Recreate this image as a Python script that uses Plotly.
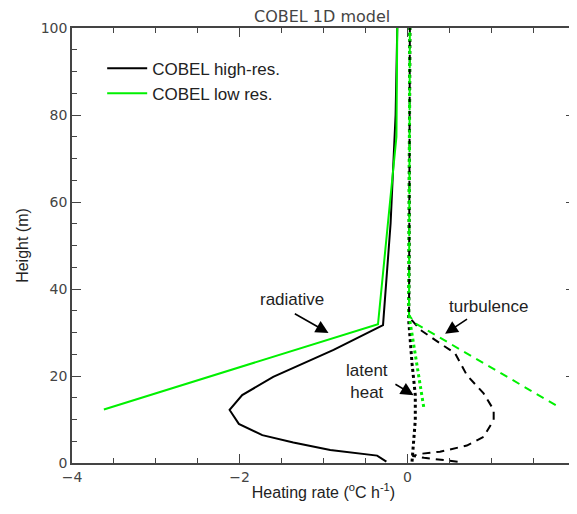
import plotly.graph_objects as go

# ---- data (heating rate in degC/h, height in m) ----
rad_hr_height = [0.3, 1.7, 3.0, 4.7, 6.4, 9.0, 12.2, 15.6, 19.8, 26.0, 31.7, 55, 80, 100]
rad_hr_rate = [-0.25, -0.36, -0.92, -1.36, -1.73, -2.01, -2.12, -1.97, -1.60, -0.88, -0.29, -0.20, -0.14, -0.12]

rad_lr_height = [12.3, 31.9, 75, 100]
rad_lr_rate = [-3.62, -0.35, -0.13, -0.12]

lat_hr_height = [0.3, 4.5, 9.9, 15.6, 22.9, 32.9, 42, 100]
lat_hr_rate = [0.056, 0.075, 0.095, 0.095, 0.056, 0.016, 0.02, 0.03]

lat_lr_height = [12.9, 34.4, 100]
lat_lr_rate = [0.195, 0.016, 0.03]

turb_hr_height = [0.3, 0.7, 1.2, 1.6, 2.1, 2.6, 4.0, 6.0, 9.9, 12.2, 16.0, 20.2, 25.2, 27.5, 30.6, 33.6, 100]
turb_hr_rate = [0.6, 0.4, 0.2, 0.06, 0.155, 0.39, 0.71, 0.91, 1.03, 1.03, 0.91, 0.71, 0.57, 0.39, 0.155, 0.02, 0.03]

turb_lr_height = [13.3, 32.1, 34, 100]
turb_lr_rate = [1.77, 0.095, 0.02, 0.03]

series_names = ["COBEL high-res.", "COBEL low res."]
x_ticks = [-4, -2, 0, 2]
y_ticks = [0, 20, 40, 60, 80, 100]

BLACK = "#000000"
GREEN = "#00f000"
ARIAL = "Liberation Sans, Arial, sans-serif"
HERSHEY = "DejaVu Sans, sans-serif"

fig = go.Figure()

def add(x, y, color, dash, width, name=None, legend=False):
    fig.add_trace(go.Scatter(
        x=x, y=y, mode="lines", name=name, showlegend=legend,
        line=dict(color=color, dash=dash, width=width),
        hoverinfo="skip"))

# latent heat / turbulence first so radiative solid lines sit on top
add(lat_hr_rate, lat_hr_height, BLACK, "3px,3px", 3)
add(lat_lr_rate, lat_lr_height, GREEN, "3px,3px", 3)
add(turb_hr_rate, turb_hr_height, BLACK, "8px,6px", 2)
add(turb_lr_rate, turb_lr_height, GREEN, "8px,6px", 2)
add(rad_hr_rate, rad_hr_height, BLACK, "solid", 2, series_names[0], True)
add(rad_lr_rate, rad_lr_height, GREEN, "solid", 2, series_names[1], True)

# annotations: text labels
labels = [
    ("radiative", -1.38, 37.6),
    ("turbulence", 0.97, 35.9),
    ("latent<br>heat", -0.48, 18.7),
]
for txt, lx, ly in labels:
    fig.add_annotation(x=lx, y=ly, text=txt, showarrow=False,
                       font=dict(family=ARIAL, size=17, color="#222"),
                       xref="x", yref="y")

# arrows: (tail x, tail y, head x, head y)
arrows = [
    (-1.36, 34.5, -0.94, 29.9),
    (0.73, 33.3, 0.45, 29.7),
    (-0.16, 18.3, 0.075, 15.6),
]
for tx, ty, hx, hy in arrows:
    fig.add_annotation(x=hx, y=hy, ax=tx, ay=ty, xref="x", yref="y",
                       axref="x", ayref="y", text="", showarrow=True,
                       arrowhead=2, arrowsize=1.6, arrowwidth=1.6,
                       arrowcolor="#000")

axis_common = dict(
    showgrid=False, zeroline=False, showline=True, linecolor="#444",
    linewidth=1.5, mirror="ticks", ticks="inside", ticklen=9,
    tickwidth=1, tickcolor="#444", automargin=False,
    tickfont=dict(family=HERSHEY, size=14, color="#444"),
)

fig.update_xaxes(range=[-4, 2], tickvals=x_ticks, ticklabeloverflow="allow",
                 minor=dict(ticks="inside", ticklen=5, dtick=0.5, tickcolor="#444", showgrid=False),
                 title=dict(text="Heating rate (<sup>o</sup>C h<sup>-1</sup>)",
                            font=dict(family=ARIAL, size=16, color="#222"), standoff=3),
                 **axis_common)
fig.update_yaxes(range=[0, 100], tickvals=y_ticks,
                 minor=dict(ticks="inside", ticklen=5, dtick=5, tickcolor="#444", showgrid=False),
                 title=dict(text="Height (m)",
                            font=dict(family=ARIAL, size=16, color="#222"), standoff=8),
                 **axis_common)

# the page body has an 8px margin, so the figure is sized/offset to compensate
fig.update_layout(
    width=569, height=506,
    margin=dict(l=64, r=2, t=20, b=51),
    paper_bgcolor="white", plot_bgcolor="white",
    title=dict(text="COBEL 1D model", x=0.552, xanchor="center", y=0.995, yanchor="top",
               font=dict(family=HERSHEY, size=16, color="#444")),
    legend=dict(x=0.06, y=0.948, xanchor="left", yanchor="top", itemwidth=40,
                bgcolor="rgba(0,0,0,0)", font=dict(family=ARIAL, size=17, color="#222"),
                tracegroupgap=0),
    showlegend=True,
)

fig.write_html("out.html")
